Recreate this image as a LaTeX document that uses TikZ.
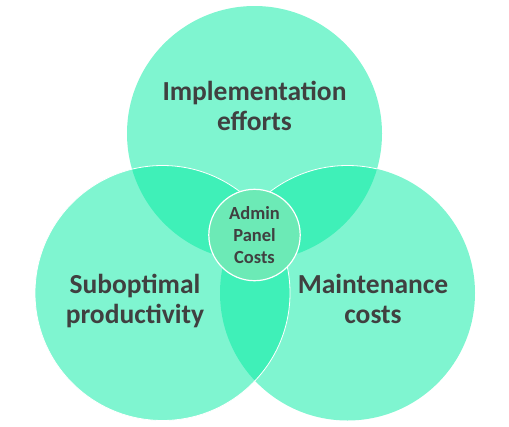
\documentclass[tikz,border=0pt]{standalone}
\usepackage{fontspec}
\setmainfont{Carlito}
\definecolor{mint}{RGB}{0,235,161}
\definecolor{hubfill}{RGB}{108,234,182}
\definecolor{labeltext}{RGB}{64,64,64}
\tikzset{
bubble/.style={circle, minimum size=255pt, inner sep=0pt, fill=mint, fill opacity=0.5},
biglabel/.style={align=center, inner sep=0pt, text=labeltext, font=\bfseries\fontsize{27.5}{30}\selectfont},
hub/.style={circle, minimum size=91.4pt, inner sep=0pt, fill=hubfill, draw=white, line width=1.2pt, align=center, text=labeltext, font=\bfseries\fontsize{18.5}{21.7}\selectfont}
}
\begin{document}
\begin{tikzpicture}[x=1pt,y=-1pt]
\useasboundingbox (0,0) rectangle (509,426);
\node[bubble] (impl) at (254.5,133.5) {};
\node[bubble] (maint) at (347.5,293) {};
\node[bubble, draw=white, line width=0.8pt] (subopt) at (162.5,293) {};
\begin{scope}
\clip (impl.center) circle (127.5pt);
\draw[white, line width=0.8pt] (maint.center) circle (127.5pt);
\end{scope}
\node[hub] (admin) at (254.5,235) {Admin\\Panel\\Costs};
\node[biglabel] (impltext) at (254.5,105.5) {Implementation\\efforts};
\node[biglabel] (subopttext) at (135,301) {Suboptimal\\productivity};
\node[biglabel] (mainttext) at (373,299) {Maintenance\\costs};
\end{tikzpicture}
\end{document}
